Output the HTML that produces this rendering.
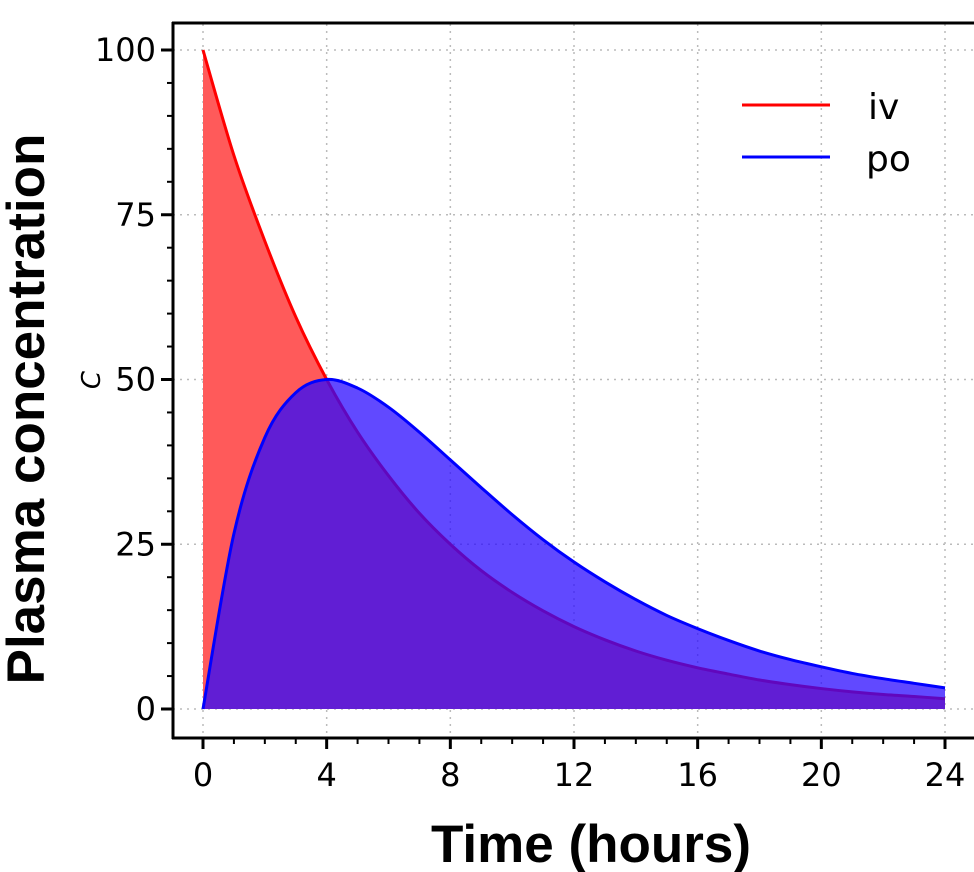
<!DOCTYPE html>
<html><head><meta charset="utf-8"><style>
html,body{margin:0;padding:0;background:#fff;width:974px;height:872px;overflow:hidden}
svg{display:block}
</style></head><body>
<svg id="chart" width="974" height="872" xmlns="http://www.w3.org/2000/svg">
<g id="grid"></g>
<g id="areas"></g>
<g id="axes"></g>
<text x="591" y="862" text-anchor="middle" font-family="Liberation Sans, sans-serif" font-weight="bold" font-size="53">Time (hours)</text>
<text transform="translate(44,409) rotate(-90)" text-anchor="middle" font-family="Liberation Sans, sans-serif" font-weight="bold" font-size="53">Plasma concentration</text>
<text transform="translate(100,380) rotate(-90)" text-anchor="middle" font-family="DejaVu Sans, sans-serif" font-style="italic" font-size="26">C</text>
<g font-family="DejaVu Sans, sans-serif" font-size="36">
<line x1="742" y1="105" x2="830" y2="105" stroke="#ff0000" stroke-width="3"/>
<text x="868" y="119">iv</text>
<line x1="742" y1="157" x2="830" y2="157" stroke="#0000ff" stroke-width="3"/>
<text x="866" y="171">po</text>
</g>
</svg>
<script>
const hours = [0,1,2,3,4,5,6,7,8,9,10,11,12,13,14,15,16,17,18,19,20,21,22,23,24];
const ivValues = [100,84,71,59.5,50,42,35.4,29.7,25,21,17.7,14.9,12.5,10.5,8.8,7.4,6.25,5.3,4.4,3.7,3.1,2.6,2.2,1.9,1.55];
const poValues = [0,26.6,41.2,48,50,48.7,45.8,42,37.8,33.6,29.5,25.7,22.3,19.3,16.6,14.2,12.2,10.4,8.8,7.5,6.4,5.4,4.6,3.9,3.2];
const xTicks = [0,4,8,12,16,20,24];
const yTicks = [0,25,50,75,100];

const NS = 'http://www.w3.org/2000/svg';
const X = v => 203 + v * (945 - 203) / 24;
const Y = v => 709 - v * (709 - 50) / 100;
function mk(tag, attrs, parent){const e=document.createElementNS(NS,tag);for(const k in attrs)e.setAttribute(k,attrs[k]);parent.appendChild(e);return e;}
const grid=document.getElementById('grid'), areas=document.getElementById('areas'), axes=document.getElementById('axes');

xTicks.forEach(t=>{
  const l=mk('line',{x1:X(t),x2:X(t),y1:24,y2:737,stroke:'#bbb','stroke-width':1.5,'stroke-dasharray':'2 5'},grid);
  
  
});
yTicks.forEach(t=>{
  const l=mk('line',{x1:173,x2:974,y1:Y(t),y2:Y(t),stroke:'#bbb','stroke-width':1.5,'stroke-dasharray':'2 5'},grid);
  
  
});

function smooth(vals){
  const p=hours.map((h,i)=>[X(h),Y(vals[i])]);
  let d='M'+p[0][0]+','+p[0][1];
  for(let i=0;i<p.length-1;i++){
    const p0=p[Math.max(0,i-1)],p1=p[i],p2=p[i+1],p3=p[Math.min(p.length-1,i+2)];
    const c1=[p1[0]+(p2[0]-p0[0])/6,p1[1]+(p2[1]-p0[1])/6];
    const c2=[p2[0]-(p3[0]-p1[0])/6,p2[1]-(p3[1]-p1[1])/6];
    d+=' C'+c1[0]+','+c1[1]+' '+c2[0]+','+c2[1]+' '+p2[0]+','+p2[1];
  }
  return d;
}
function areaPath(vals){
  return 'M'+X(hours[0])+','+Y(0)+' L'+smooth(vals).slice(1)+' L'+X(hours[hours.length-1])+','+Y(0)+' Z';
}

const ivArea=mk('path',{d:areaPath(ivValues),fill:'#ff5a5a'},areas);


const ivLine=mk('path',{d:smooth(ivValues),fill:'none',stroke:'#ff0000','stroke-width':3},areas);


const poArea=mk('path',{d:areaPath(poValues),fill:'#2a0aff','fill-opacity':0.74},areas);


const poLine=mk('path',{d:smooth(poValues),fill:'none',stroke:'#0000ff','stroke-width':3},areas);



mk('line',{x1:173,x2:173,y1:22,y2:739,stroke:'#000','stroke-width':3},axes);
mk('line',{x1:172,x2:974,y1:23,y2:23,stroke:'#000','stroke-width':3},axes);
mk('line',{x1:172,x2:974,y1:738,y2:738,stroke:'#000','stroke-width':3},axes);
for(let v=0;v<=24;v++){
  const major=v%4===0;
  mk('line',{x1:X(v),x2:X(v),y1:738,y2:738+(major?11:6),stroke:'#000','stroke-width':major?3:2},axes);
}
for(let v=0;v<=100;v+=5){
  const major=v%25===0;
  mk('line',{x1:173-(major?12:6),x2:173,y1:Y(v),y2:Y(v),stroke:'#000','stroke-width':major?3:2},axes);
}
xTicks.forEach(t=>{
  const tx=mk('text',{x:X(t),y:786,'text-anchor':'middle','font-family':'DejaVu Sans, sans-serif','font-size':32},axes);
  tx.textContent=t;
  
  
});
yTicks.forEach(t=>{
  const tx=mk('text',{x:156,y:Y(t)+11,'text-anchor':'end','font-family':'DejaVu Sans, sans-serif','font-size':32},axes);
  tx.textContent=t;
  
  
});
</script>
</body></html>
